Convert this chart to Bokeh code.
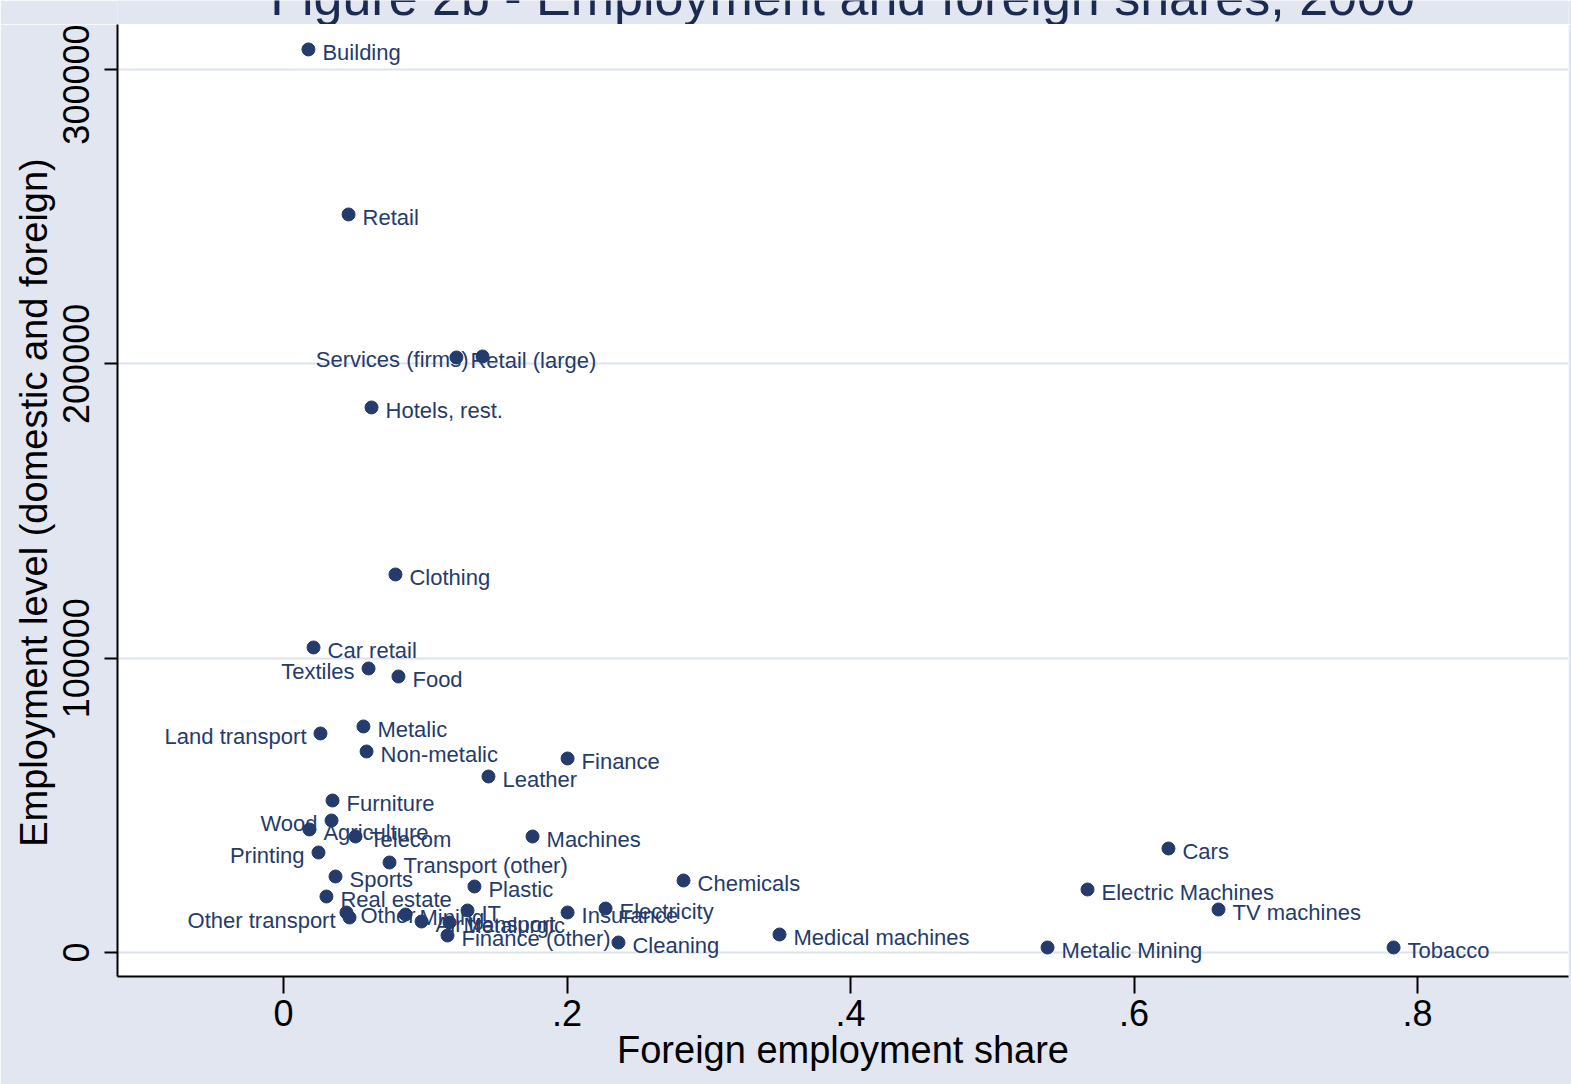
import math
from bokeh.plotting import figure
from bokeh.layouts import column
from bokeh.models import Range1d, FixedTicker, ColumnDataSource, Label
from bokeh.core.properties import value
from bokeh.embed import file_html
from bokeh.resources import INLINE

# ---- data ----
sectors = ["Building", "Retail", "Retail (large)", "Services (firms)", "Hotels, rest.",
           "Clothing", "Car retail", "Textiles", "Food", "Land transport", "Metalic",
           "Non-metalic", "Finance", "Leather", "Furniture", "Wood", "Agriculture",
           "Telecom", "Machines", "Printing", "Transport (other)", "Sports", "Plastic",
           "Real estate", "Other", "Other transport", "Mining", "Air transport", "IT",
           "Metalurgic", "Finance (other)", "Insurance", "Electricity", "Cleaning",
           "Chemicals", "Medical machines", "Cars", "Electric Machines", "TV machines",
           "Metalic Mining", "Tobacco"]
foreign_share = [0.0176, 0.0459, 0.1220, 0.1404, 0.0621,
                 0.0790, 0.0212, 0.0600, 0.0811, 0.0261, 0.0564,
                 0.0586, 0.2004, 0.1446, 0.0346, 0.0339, 0.0183,
                 0.0508, 0.1757, 0.0247, 0.0748, 0.0367, 0.1347,
                 0.0303, 0.0444, 0.0466, 0.0861, 0.0974, 0.1298,
                 0.1171, 0.1157, 0.2004, 0.2272, 0.2363,
                 0.2822, 0.3499, 0.6243, 0.5672, 0.6596,
                 0.5390, 0.7831]
employment = [306830, 250760, 202175, 202514, 185185,
              128440, 103636, 96500, 93782, 74414, 76792,
              68298, 65919, 59803, 51648, 44852, 41794,
              39415, 39415, 33979, 30581, 25824, 22426,
              19028, 13592, 11893, 12912, 10533, 14271,
              10194, 5776, 13592, 14951, 3398,
              24465, 6116, 35338, 21407, 14611,
              1699, 1699]
left_labelled = {"Services (firms)", "Textiles", "Land transport", "Wood", "Printing",
                 "Other transport"}

x_ticks = [0, 0.2, 0.4, 0.6, 0.8]
x_tick_labels = ["0", ".2", ".4", ".6", ".8"]
y_ticks = [0, 100000, 200000, 300000]
y_tick_labels = ["0", "100000", "200000", "300000"]

title_text = "Figure 2b - Employment and foreign shares, 2000"
x_title = "Foreign employment share"
y_title = "Employment level (domestic and foreign)"

NAVY = "#243B6B"
BG = "#E1E6F0"
FONT = "Liberation Sans"
STRIP_H = 24

# ---- title strip (the reference shows only the lower part of the title) ----
t = figure(width=1571, height=STRIP_H, output_backend="svg", toolbar_location=None,
           x_range=Range1d(0, 1), y_range=Range1d(0, 1),
           x_axis_location=None, y_axis_location=None,
           min_border=0, min_border_left=0, min_border_right=0,
           min_border_top=0, min_border_bottom=0,
           background_fill_color=BG, border_fill_color=BG)
t.outline_line_color = None
t.grid.visible = False
t.add_layout(Label(x=842, y=-4, x_units="canvas", y_units="canvas", text=title_text,
                   text_align="center", text_baseline="middle", text_font=FONT,
                   text_font_size="52px", text_color="#1B2A50"))

# ---- main scatter ----
X0, X1 = -0.1171, 0.9065
Y0, Y1 = -8155, 315300
p = figure(width=1571, height=1084 - STRIP_H, output_backend="svg", toolbar_location=None,
           x_range=Range1d(X0, X1), y_range=Range1d(Y0, Y1),
           min_border_left=117, min_border_right=3, min_border_top=0,
           min_border_bottom=108, background_fill_color="white",
           border_fill_color=BG)
p.outline_line_color = None

p.xaxis.ticker = FixedTicker(ticks=x_ticks)
p.xaxis.major_label_overrides = dict(zip(x_ticks, x_tick_labels))
p.yaxis.ticker = FixedTicker(ticks=y_ticks)
p.yaxis.major_label_overrides = dict(zip(y_ticks, y_tick_labels))
p.yaxis.major_label_orientation = "vertical"
for ax in (p.xaxis, p.yaxis):
    ax.axis_line_color = "black"
    ax.axis_line_width = 2
    ax.major_tick_line_color = "black"
    ax.major_tick_line_width = 2
    ax.major_tick_in = 0
    ax.minor_tick_line_color = None
    ax.major_label_text_font = FONT
    ax.major_label_text_font_size = "36px"
    ax.major_label_text_color = "black"
p.xaxis.major_tick_out = 17
p.yaxis.major_tick_out = 13
p.xaxis.major_label_standoff = 6
p.yaxis.major_label_standoff = 15
p.xaxis.axis_label = x_title
p.xaxis.axis_label_standoff = 0
p.xaxis.axis_label_text_font = FONT
p.xaxis.axis_label_text_font_size = "38px"
p.xaxis.axis_label_text_font_style = "normal"
p.xaxis.axis_label_text_color = "black"

p.xgrid.visible = False
p.ygrid.ticker = FixedTicker(ticks=y_ticks)
p.ygrid.grid_line_color = "#DCE2EE"
p.ygrid.grid_line_width = 2

# y-axis title placed in canvas pixels in the left panel
yt = Label(x=33, y=502 - STRIP_H, x_units="canvas", y_units="canvas", text=y_title,
           angle=math.pi / 2, text_align="center", text_baseline="middle",
           text_font=FONT, text_font_size="38px", text_color="black")
p.add_layout(yt, "left")

src = ColumnDataSource(dict(x=foreign_share, y=employment, name=sectors))
p.scatter("x", "y", source=src, size=13, fill_color=NAVY, line_color=NAVY)

right_idx = [i for i, s in enumerate(sectors) if s not in left_labelled]
left_idx = [i for i, s in enumerate(sectors) if s in left_labelled]
src_r = ColumnDataSource(dict(x=[foreign_share[i] for i in right_idx],
                              y=[employment[i] for i in right_idx],
                              name=[sectors[i] for i in right_idx]))
src_l = ColumnDataSource(dict(x=[foreign_share[i] for i in left_idx],
                              y=[employment[i] for i in left_idx],
                              name=[sectors[i] for i in left_idx]))
p.text("x", "y", text="name", source=src_r, x_offset=14, y_offset=3,
       text_align="left", text_baseline="middle", text_font=value(FONT),
       text_font_size="22px", text_color=NAVY)
p.text("x", "y", text="name", source=src_l, x_offset=-14, y_offset=3,
       text_align="right", text_baseline="middle", text_font=value(FONT),
       text_font_size="22px", text_color=NAVY)

layout = column(t, p, spacing=0)
open("out.html", "w").write(file_html(layout, INLINE))
